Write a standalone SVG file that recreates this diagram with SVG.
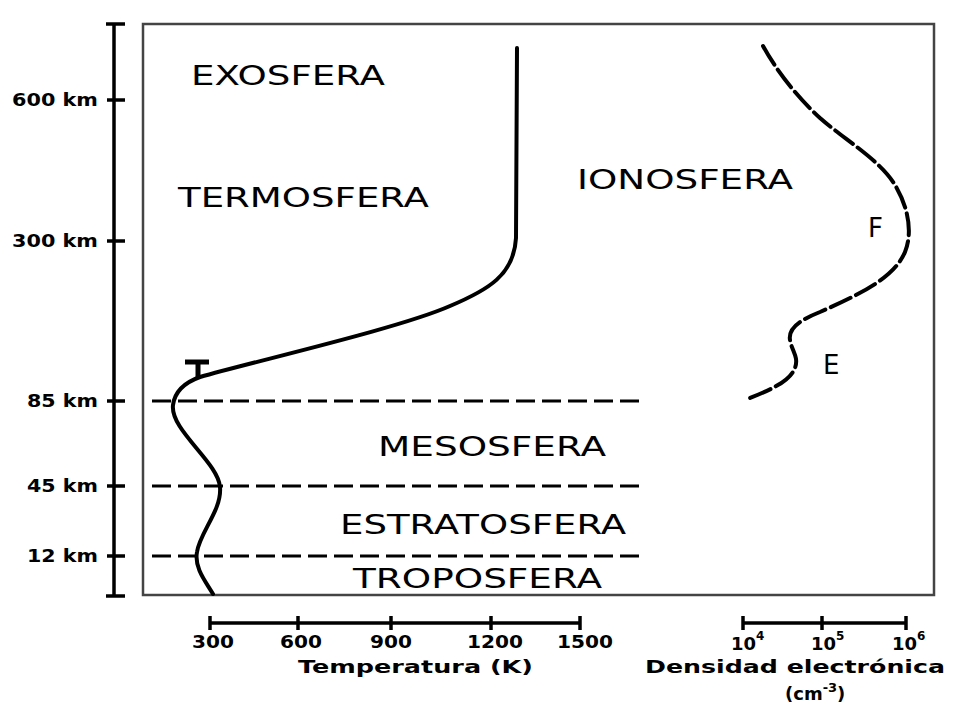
<svg xmlns="http://www.w3.org/2000/svg" width="960" height="720" viewBox="0 0 960 720">
<style>
.layer{font-family:"DejaVu Sans",sans-serif;font-size:26px;fill:#000}
.lab{font-family:"DejaVu Sans",sans-serif;font-weight:bold;font-size:17px;fill:#000}
.blab{font-family:"DejaVu Sans",sans-serif;font-weight:bold;font-size:18px;fill:#000}
.ax{stroke:#000;stroke-width:3.5;fill:none}
.dash{stroke:#000;stroke-width:3;stroke-dasharray:19 7;fill:none}
.curve{stroke:#000;stroke-width:4;fill:none;stroke-linecap:round}
</style>
<rect width="960" height="720" fill="#fff"/>
<g id="frame"><rect x="143" y="24" width="791" height="571" fill="none" stroke="#444" stroke-width="2.5"/></g>
<g id="altitude-axis">
<line class="ax" x1="114" y1="24" x2="114" y2="596" stroke-width="4"/>
<line class="ax" x1="106" y1="24" x2="125" y2="24"/>
<line class="ax" x1="106" y1="596" x2="125" y2="596"/>
<line class="ax" x1="107" y1="100" x2="125" y2="100" stroke-width="3"/>
<line class="ax" x1="107" y1="241" x2="125" y2="241" stroke-width="3"/>
<line class="ax" x1="107" y1="401" x2="125" y2="401" stroke-width="3"/>
<line class="ax" x1="107" y1="486" x2="125" y2="486" stroke-width="3"/>
<line class="ax" x1="107" y1="556" x2="125" y2="556" stroke-width="3"/>
<text class="lab" x="98" y="106" text-anchor="end" textLength="86" lengthAdjust="spacingAndGlyphs">600 km</text>
<text class="lab" x="98" y="247" text-anchor="end" textLength="86" lengthAdjust="spacingAndGlyphs">300 km</text>
<text class="lab" x="98" y="407" text-anchor="end" textLength="71" lengthAdjust="spacingAndGlyphs">85 km</text>
<text class="lab" x="98" y="492" text-anchor="end" textLength="71" lengthAdjust="spacingAndGlyphs">45 km</text>
<text class="lab" x="98" y="562" text-anchor="end" textLength="71" lengthAdjust="spacingAndGlyphs">12 km</text>
</g>
<g id="connectors">
<line class="dash" x1="152" y1="401" x2="640" y2="401"/>
<line class="dash" x1="152" y1="486" x2="640" y2="486"/>
<line class="dash" x1="152" y1="556" x2="640" y2="556"/>
</g>
<g id="temperature-curve">
<path class="curve" d="M213,594 C206,582 194,568 197,552 C200,532 222,510 220,487 C218,462 170,430 173,405 C175,390 186,382 200,377 C260,360 400,328 450,306 C488,290 514,275 516,238 L517,48"/>
<line x1="185" y1="362" x2="209" y2="362" stroke="#000" stroke-width="5"/>
<line x1="198" y1="362" x2="198" y2="378" stroke="#000" stroke-width="5"/>
</g>
<g id="density-curve">
<path class="curve" stroke-linecap="butt" stroke-dasharray="22 6" d="M763,46 C775,68 795,95 820,118 C845,140 880,160 895,185 C910,210 912,235 905,252 C895,275 870,290 820,312 C800,320 788,328 790,340 C792,352 800,358 794,370 C788,382 770,390 750,398"/>
</g>
<g id="layer-labels">
<text class="layer" x="191" y="85" textLength="194" lengthAdjust="spacingAndGlyphs">EXOSFERA</text>
<text class="layer" x="178" y="207" textLength="251" lengthAdjust="spacingAndGlyphs">TERMOSFERA</text>
<text class="layer" x="577" y="189" textLength="216" lengthAdjust="spacingAndGlyphs">IONOSFERA</text>
<text class="layer" x="378" y="456" textLength="228" lengthAdjust="spacingAndGlyphs">MESOSFERA</text>
<text class="layer" x="340" y="534" textLength="286" lengthAdjust="spacingAndGlyphs">ESTRATOSFERA</text>
<text class="layer" x="353" y="588" textLength="249" lengthAdjust="spacingAndGlyphs">TROPOSFERA</text>
<text class="layer" x="868" y="237">F</text>
<text class="layer" x="823" y="374">E</text>
</g>
<g id="temperature-axis">
<line class="ax" x1="210" y1="623" x2="580" y2="623" stroke-width="3"/>
<line class="ax" x1="210" y1="616" x2="210" y2="630" stroke-width="3"/>
<line class="ax" x1="298" y1="616" x2="298" y2="630" stroke-width="3"/>
<line class="ax" x1="391" y1="616" x2="391" y2="630" stroke-width="3"/>
<line class="ax" x1="491" y1="616" x2="491" y2="630" stroke-width="3"/>
<line class="ax" x1="580" y1="616" x2="580" y2="630" stroke-width="3"/>
<text class="blab" x="213" y="648" text-anchor="middle" textLength="42" lengthAdjust="spacingAndGlyphs">300</text>
<text class="blab" x="301" y="648" text-anchor="middle" textLength="42" lengthAdjust="spacingAndGlyphs">600</text>
<text class="blab" x="391" y="648" text-anchor="middle" textLength="42" lengthAdjust="spacingAndGlyphs">900</text>
<text class="blab" x="495" y="648" text-anchor="middle" textLength="56" lengthAdjust="spacingAndGlyphs">1200</text>
<text class="blab" x="585" y="648" text-anchor="middle" textLength="56" lengthAdjust="spacingAndGlyphs">1500</text>
<text class="blab" x="298" y="673" textLength="235" lengthAdjust="spacingAndGlyphs">Temperatura (K)</text>
</g>
<g id="density-axis">
<line class="ax" x1="743" y1="623" x2="906" y2="623" stroke-width="3"/>
<line class="ax" x1="743" y1="616" x2="743" y2="630" stroke-width="3"/>
<line class="ax" x1="822" y1="616" x2="822" y2="630" stroke-width="3"/>
<line class="ax" x1="906" y1="616" x2="906" y2="630" stroke-width="3"/>
<text class="blab" x="731" y="650">10<tspan font-size="12" dy="-10">4</tspan></text>
<text class="blab" x="811" y="650">10<tspan font-size="12" dy="-10">5</tspan></text>
<text class="blab" x="892" y="650">10<tspan font-size="12" dy="-10">6</tspan></text>
<text class="blab" x="645" y="673" textLength="300" lengthAdjust="spacingAndGlyphs">Densidad electrónica</text>
<text class="blab" x="785" y="700">(cm<tspan font-size="13" dy="-8">-3</tspan><tspan dy="8">)</tspan></text>
</g>
</svg>
